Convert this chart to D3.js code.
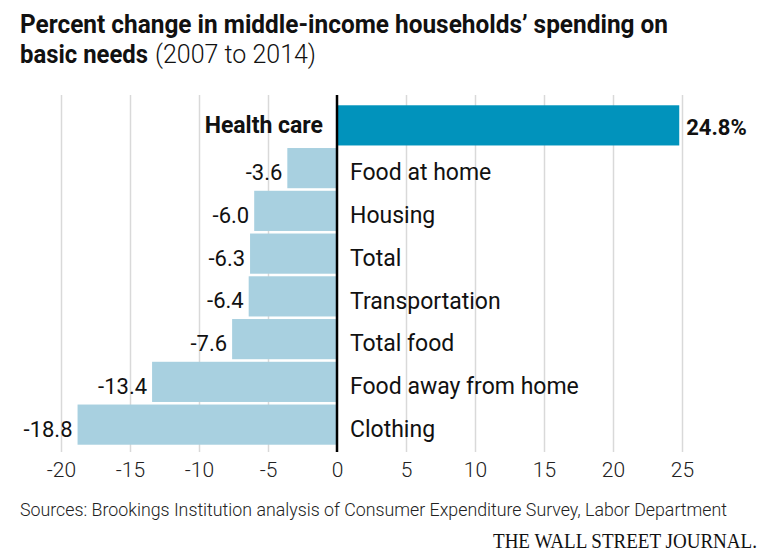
<!DOCTYPE html>
<html><head><meta charset="utf-8">
<script src="https://cdn.jsdelivr.net/npm/d3@7"></script>
<style>body{margin:0;background:#fff}svg{display:block}</style>
</head><body>
<svg id="c" width="777" height="559" font-family="Roboto, 'Noto Sans', sans-serif"></svg>
<script>
const categories = ["Health care","Food at home","Housing","Total","Transportation","Total food","Food away from home","Clothing"];
const values = [24.8,-3.6,-6.0,-6.3,-6.4,-7.6,-13.4,-18.8];
const valueLabels = ["24.8%","-3.6","-6.0","-6.3","-6.4","-7.6","-13.4","-18.8"];
const tickValues = [-20,-15,-10,-5,0,5,10,15,20,25];
const tickLabels = ["-20","-15","-10","-5","0","5","10","15","20","25"];

const svg = d3.select("#c");
const x = d3.scaleLinear().domain([-20,25]).range([61,682]);
const y = d3.scaleBand().domain(categories).range([104,446]).paddingInner(0.06).paddingOuter(0.03);
const data = categories.map((c,i)=>({c, v:values[i], l:valueLabels[i], i}));

// title
svg.append("text").attr("x",20).attr("y",33).attr("font-size",26).attr("font-weight",700)
  .attr("fill","#111").attr("textLength",648).attr("lengthAdjust","spacingAndGlyphs")
  .text("Percent change in middle-income households\u2019 spending on");
svg.append("text").attr("x",20).attr("y",63).attr("font-size",26).attr("font-weight",700)
  .attr("fill","#111").attr("textLength",128).attr("lengthAdjust","spacingAndGlyphs").text("basic needs");
svg.append("text").attr("x",155).attr("y",63).attr("font-size",26).attr("font-weight",300)
  .attr("fill","#111").attr("textLength",161).attr("lengthAdjust","spacingAndGlyphs").text("(2007 to 2014)");

// gridlines + axis labels
const ax = svg.append("g").attr("transform","translate(0,452)")
  .call(d3.axisBottom(x).tickValues(tickValues).tickFormat((d,i)=>tickLabels[i]).tickSize(-357).tickPadding(10));
ax.attr("font-family",null);
ax.select(".domain").remove();
ax.selectAll(".tick line").attr("stroke","#d9d9d9").attr("stroke-width",1.5).filter(d=>d===0).remove();
ax.selectAll(".tick text").attr("font-size",21).attr("font-weight",300).attr("fill","#222").attr("dy","0.71em");

// bars
svg.append("g").selectAll("rect").data(data).join("rect")
  .attr("x",d=>x(Math.min(0,d.v))).attr("width",d=>Math.abs(x(d.v)-x(0)))
  .attr("y",d=>y(d.c)).attr("height",y.bandwidth())
  .attr("fill",d=>d.i===0?"#0193bc":"#a8d0e0");

// zero line
svg.append("line").attr("x1",x(0)).attr("x2",x(0)).attr("y1",95).attr("y2",452)
  .attr("stroke","#000").attr("stroke-width",2.5);

// value labels
svg.append("g").selectAll("text").data(data).join("text")
  .attr("x",d=>d.v<0?x(d.v)-5:x(d.v)+7)
  .attr("y",d=>y(d.c)+y.bandwidth()/2+(d.v<0?4:1.5)).attr("dy","0.36em")
  .attr("text-anchor",d=>d.v<0?"end":"start")
  .attr("font-size",22).attr("font-weight",d=>d.v<0?400:700).attr("fill","#111")
  .text(d=>d.l);

// category labels
svg.append("g").selectAll("text").data(data).join("text")
  .attr("x",d=>d.v<0?x(0)+13:x(0)-14)
  .attr("y",d=>y(d.c)+y.bandwidth()/2+(d.v<0?4:-1)).attr("dy","0.36em")
  .attr("text-anchor",d=>d.v<0?"start":"end")
  .attr("font-size",23).attr("font-weight",d=>d.v<0?400:700).attr("fill","#111")
  .text(d=>d.c);

// source
svg.append("text").attr("x",20).attr("y",516).attr("font-size",19).attr("font-weight",300).attr("fill","#222")
  .attr("textLength",707).attr("lengthAdjust","spacingAndGlyphs")
  .text("Sources: Brookings Institution analysis of Consumer Expenditure Survey, Labor Department");
svg.append("text").attr("x",757).attr("y",548).attr("text-anchor","end").attr("font-size",20)
  .style("font-family","'Liberation Serif','DejaVu Serif',serif").attr("fill","#111")
  .attr("textLength",264).attr("lengthAdjust","spacingAndGlyphs")
  .text("THE WALL STREET JOURNAL.");
</script>
</body></html>
